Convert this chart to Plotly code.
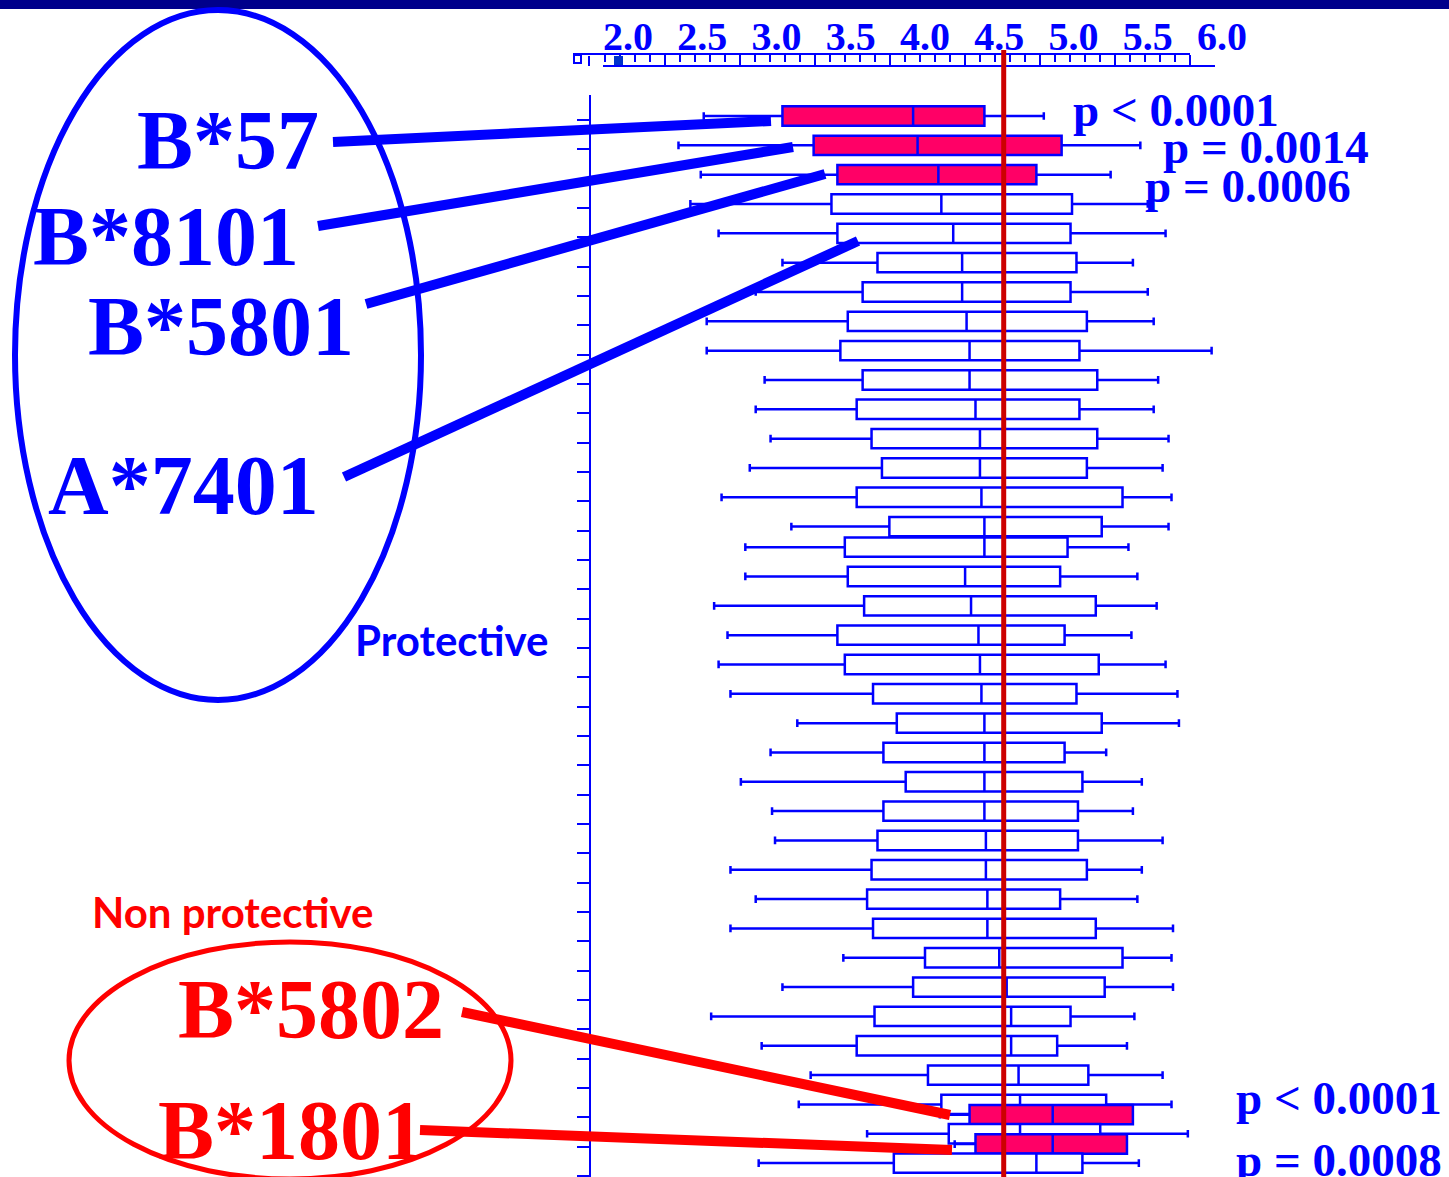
import plotly.graph_objects as go

W, H = 1449, 1177

# Five-number summaries of each row, listed from the top row down
lower_whisker = [2.51, 2.34, 2.49, 2.42, 2.61, 3.04, 2.86, 2.53, 2.53, 2.92,
                 2.86, 2.96, 2.82, 2.63, 3.10, 2.79, 2.79, 2.58, 2.67, 2.61,
                 2.69, 3.14, 2.96, 2.76, 2.97, 2.99, 2.69, 2.86, 2.69, 3.45,
                 3.04, 2.56, 2.90, 3.23, 3.15, 4.10, 3.61, 4.20, 2.88]
q1 = [3.04, 3.25, 3.41, 3.37, 3.41, 3.68, 3.58, 3.48, 3.43, 3.58,
      3.54, 3.64, 3.71, 3.54, 3.76, 3.46, 3.48, 3.59, 3.41, 3.46,
      3.65, 3.81, 3.72, 3.87, 3.72, 3.68, 3.64, 3.61, 3.65, 4.00,
      3.92, 3.66, 3.54, 4.02, 4.11, 4.30, 4.16, 4.34, 3.79]
median = [3.92, 3.95, 4.09, 4.11, 4.19, 4.25, 4.25, 4.28, 4.30, 4.30,
          4.34, 4.37, 4.37, 4.38, 4.40, 4.40, 4.27, 4.31, 4.36, 4.37,
          4.38, 4.40, 4.40, 4.40, 4.40, 4.41, 4.41, 4.42, 4.42, 4.50,
          4.55, 4.58, 4.58, 4.63, 4.64, 4.86, 4.64, 4.86, 4.75]
q3 = [4.40, 4.92, 4.75, 4.99, 4.98, 5.02, 4.98, 5.09, 5.04, 5.16,
      5.04, 5.16, 5.09, 5.33, 5.19, 4.96, 4.91, 5.15, 4.94, 5.17,
      5.02, 5.19, 4.94, 5.06, 5.03, 5.03, 5.09, 4.91, 5.15, 5.33,
      5.21, 4.98, 4.89, 5.10, 5.22, 5.40, 5.18, 5.36, 5.06]
upper_whisker = [4.80, 5.45, 5.25, 5.50, 5.62, 5.40, 5.50, 5.54, 5.93, 5.57,
                 5.54, 5.64, 5.60, 5.66, 5.64, 5.37, 5.43, 5.56, 5.39, 5.62,
                 5.70, 5.71, 5.22, 5.46, 5.40, 5.60, 5.46, 5.43, 5.67, 5.66,
                 5.67, 5.41, 5.36, 5.60, 5.66, 5.40, 5.77, 5.36, 5.44]
# Row slot of each box on the vertical axis (0 = top)
row_slot = [0, 1, 2, 3, 4, 5, 6, 7, 8, 9,
            10, 11, 12, 13, 14, 14.7, 15.7, 16.7, 17.7, 18.7,
            19.7, 20.7, 21.7, 22.7, 23.7, 24.7, 25.7, 26.7, 27.7, 28.7,
            29.7, 30.7, 31.7, 32.7, 33.7, 34.05, 34.7, 35.05, 35.7]
# Rows with a significant association (filled boxes)
significant_rows = [0, 1, 2, 35, 37]

x_ticks = [2.0, 2.5, 3.0, 3.5, 4.0, 4.5, 5.0, 5.5, 6.0]
reference_value = 4.53

protective_alleles = ["B*57", "B*8101", "B*5801", "A*7401"]
protective_p = ["p &lt; 0.0001", "p = 0.0014", "p = 0.0006"]
risk_alleles = ["B*5802", "B*1801"]
risk_p = ["p &lt; 0.0001", "p = 0.0008"]

BLUE = "#0000FF"
RED = "#FF0000"
DARK_RED = "#CC0000"
FILL = "#FF0066"


def px(x):
    return x / W


def py(y):
    return 1 - y / H


# horizontal scale of the value axis (pixels per unit) and its origin
SCALE = 148.5
X_AT_2 = 628
x_lo = 2.0 - X_AT_2 / SCALE
x_hi = x_lo + W / SCALE

# vertical layout of rows
ROW_PX = 29.33
ROW0_PX = 116
y_top = (95 - ROW0_PX) / ROW_PX
y_bot = (H - ROW0_PX) / ROW_PX

fig = go.Figure()

# empty trace so the ruler axis gets drawn
fig.add_trace(go.Scatter(x=[None], y=[None], xaxis="x2", yaxis="y",
                         showlegend=False, hoverinfo="skip"))

for i in range(len(median)):
    fig.add_trace(go.Box(
        orientation="h",
        y=[row_slot[i]],
        q1=[q1[i]], median=[median[i]], q3=[q3[i]],
        lowerfence=[lower_whisker[i]], upperfence=[upper_whisker[i]],
        fillcolor=FILL if i in significant_rows else "white",
        line=dict(color=BLUE, width=2.5),
        width=0.66, whiskerwidth=0.4,
        boxpoints=False, hoverinfo="skip", showlegend=False,
        xaxis="x", yaxis="y",
    ))

# ruler scale
R_SCALE = 150.0
r_lo = 2.25 - (665 - 603) / R_SCALE
r_hi = 5.751

shapes = []
# navy band across the top
shapes.append(dict(type="rect", xref="paper", yref="paper",
                   x0=0, x1=1, y0=py(9), y1=1, fillcolor="#00008B",
                   line=dict(width=0), layer="above"))
# ruler outline pieces
shapes.append(dict(type="line", xref="paper", yref="paper",
                   x0=px(573), x1=px(603), y0=py(54), y1=py(54),
                   line=dict(color=BLUE, width=2)))
shapes.append(dict(type="line", xref="paper", yref="paper",
                   x0=px(603), x1=px(1215), y0=py(66), y1=py(66),
                   line=dict(color=BLUE, width=2)))
shapes.append(dict(type="rect", xref="paper", yref="paper",
                   x0=px(574), x1=px(581), y0=py(63), y1=py(55),
                   line=dict(color=BLUE, width=2), fillcolor="white"))
shapes.append(dict(type="line", xref="paper", yref="paper",
                   x0=px(589), x1=px(589), y0=py(56), y1=py(66),
                   line=dict(color=BLUE, width=2)))
shapes.append(dict(type="rect", xref="paper", yref="paper",
                   x0=px(614), x1=px(623), y0=py(65), y1=py(56),
                   line=dict(width=0), fillcolor="#0033CC"))

# group ellipses
shapes.append(dict(type="circle", xref="paper", yref="paper",
                   x0=px(15), x1=px(421), y0=py(700), y1=py(10),
                   line=dict(color=BLUE, width=6)))
shapes.append(dict(type="circle", xref="paper", yref="paper",
                   x0=px(69), x1=px(511), y0=py(1179), y1=py(942),
                   line=dict(color=RED, width=5)))

# connectors from allele names to their rows
connectors = [
    ((333, 142), (771, 121), BLUE),
    ((318, 226), (793, 147), BLUE),
    ((366, 304), (825, 174), BLUE),
    ((344, 477), (858, 241), BLUE),
    ((462, 1012), (950, 1115), RED),
    ((420, 1130), (952, 1150), RED),
]
for (xa, ya), (xb, yb), col in connectors:
    shapes.append(dict(type="line", xref="paper", yref="paper",
                       x0=px(xa), y0=py(ya), x1=px(xb), y1=py(yb),
                       line=dict(color=col, width=10)))

# reference value line
shapes.append(dict(type="line", xref="x", yref="paper",
                   x0=reference_value, x1=reference_value,
                   y0=py(50), y1=0,
                   line=dict(color=DARK_RED, width=5)))

big_font = dict(family="Liberation Serif", size=84, weight="bold")
p_font = dict(family="Liberation Serif", size=47, weight="bold", color=BLUE)
group_font = dict(family="Lato", size=42, weight="bold")

annotations = []
allele_pos = [(321, 141), (301, 237), (356, 326), (321, 485)]
for name, (xr, ym) in zip(protective_alleles, allele_pos):
    annotations.append(dict(text=name, x=px(xr), y=py(ym), xref="paper",
                            yref="paper", xanchor="right", yanchor="middle",
                            showarrow=False, font=dict(big_font, color=BLUE)))
risk_pos = [(446, 1009), (426, 1130)]
for name, (xr, ym) in zip(risk_alleles, risk_pos):
    annotations.append(dict(text=name, x=px(xr), y=py(ym), xref="paper",
                            yref="paper", xanchor="right", yanchor="middle",
                            showarrow=False, font=dict(big_font, color=RED)))

p_pos = [(1071, 110), (1161, 147), (1143, 186)]
for txt, (xl, ym) in zip(protective_p, p_pos):
    annotations.append(dict(text=txt, x=px(xl), y=py(ym), xref="paper",
                            yref="paper", xanchor="left", yanchor="middle",
                            showarrow=False, font=p_font))
rp_pos = [(1234, 1098), (1234, 1160)]
for txt, (xl, ym) in zip(risk_p, rp_pos):
    annotations.append(dict(text=txt, x=px(xl), y=py(ym), xref="paper",
                            yref="paper", xanchor="left", yanchor="middle",
                            showarrow=False, font=p_font))

annotations.append(dict(text="Protective", x=px(353), y=py(640),
                        xref="paper", yref="paper", xanchor="left",
                        yanchor="middle", showarrow=False,
                        font=dict(group_font, color=BLUE)))
annotations.append(dict(text="Non protective", x=px(90), y=py(912),
                        xref="paper", yref="paper", xanchor="left",
                        yanchor="middle", showarrow=False,
                        font=dict(group_font, color=RED)))

fig.update_layout(
    width=W, height=H,
    margin=dict(l=0, r=0, t=0, b=0),
    paper_bgcolor="white", plot_bgcolor="rgba(0,0,0,0)",
    showlegend=False,
    xaxis=dict(
        domain=[0, 1], range=[x_lo, x_hi],
        anchor="free", position=py(58), side="top",
        tickmode="array", tickvals=x_ticks,
        ticktext=[f"{v:.1f}" for v in x_ticks],
        ticks="", showline=False, showgrid=False, zeroline=False,
        tickfont=dict(family="Liberation Serif", size=40, color=BLUE,
                      weight="bold"),
    ),
    xaxis2=dict(
        domain=[px(603), px(1190)], range=[r_lo, r_hi],
        anchor="free", position=py(54), side="bottom",
        showline=True, linecolor=BLUE, linewidth=2,
        tickmode="linear", tick0=2.25, dtick=0.5,
        ticks="outside", ticklen=12, tickwidth=2, tickcolor=BLUE,
        showticklabels=False, showgrid=False, zeroline=False,
        minor=dict(tickmode="linear", tick0=2.25, dtick=0.1,
                   ticks="outside", ticklen=7, tickwidth=1.5,
                   tickcolor=BLUE, showgrid=False),
    ),
    yaxis=dict(
        domain=[0, py(95)], range=[y_bot, y_top],
        anchor="free", position=px(590),
        showline=True, linecolor=BLUE, linewidth=2,
        tickmode="linear", tick0=(120 - ROW0_PX) / ROW_PX, dtick=1,
        ticks="outside", ticklen=12, tickwidth=2, tickcolor=BLUE,
        showticklabels=False, showgrid=False, zeroline=False,
    ),
    shapes=shapes,
    annotations=annotations,
)

fig.write_html("out.html")
